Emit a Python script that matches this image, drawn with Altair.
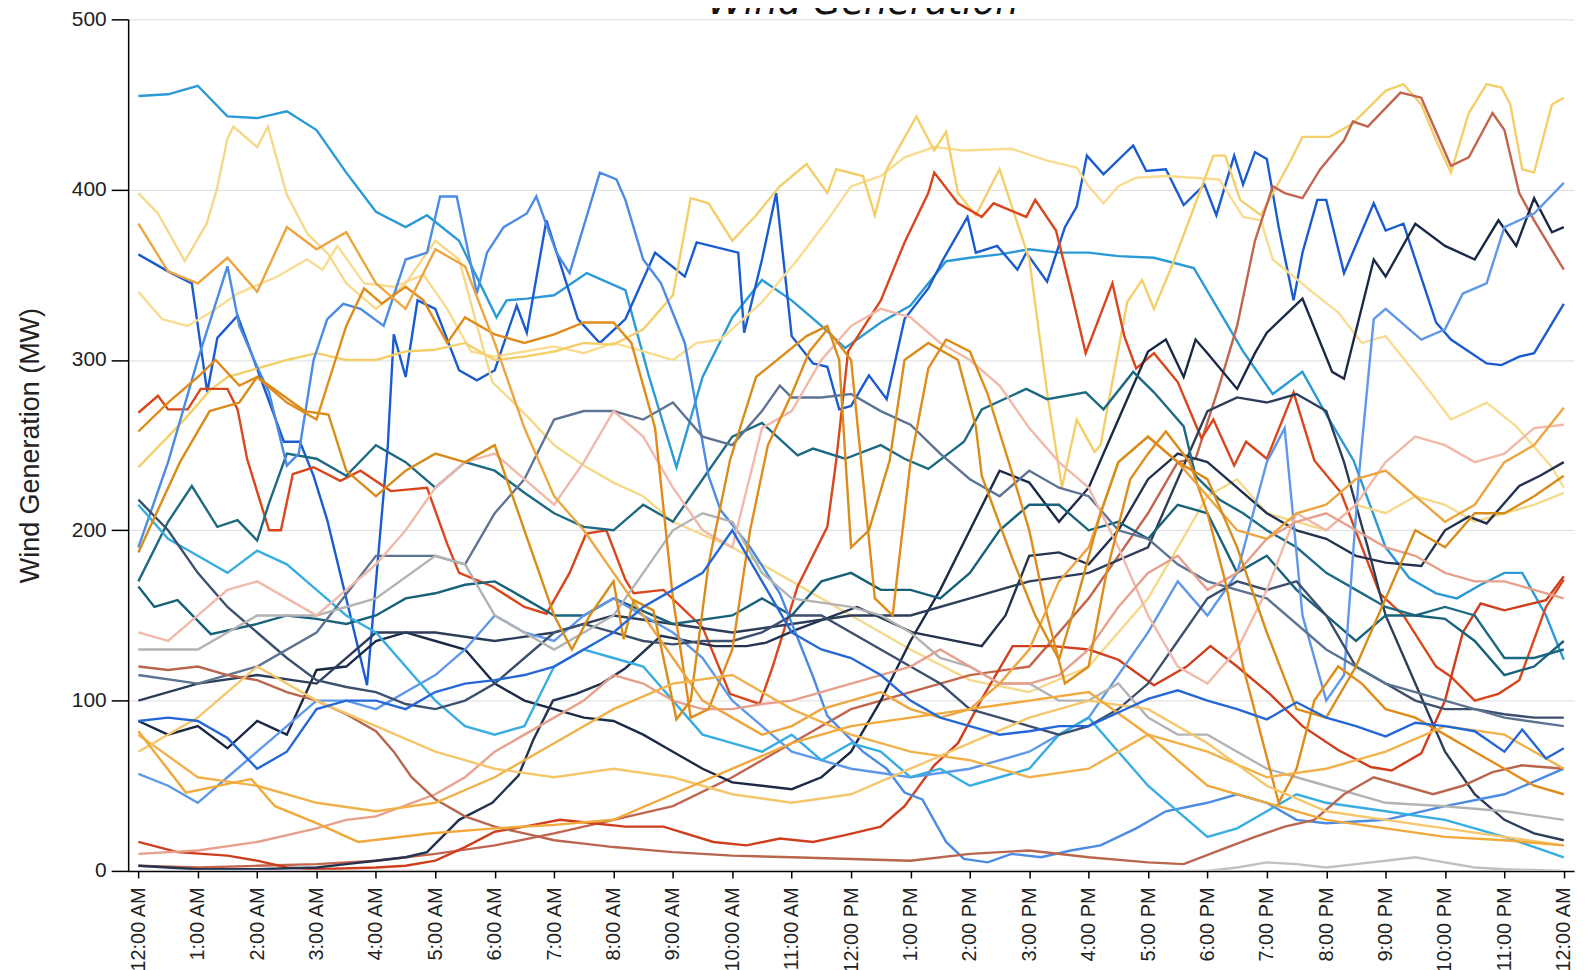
import altair as alt
import pandas as pd

CHART_TITLE = "Wind Generation"
HOUR_LABELS = ["12:00 AM", "1:00 AM", "2:00 AM", "3:00 AM", "4:00 AM", "5:00 AM",
               "6:00 AM", "7:00 AM", "8:00 AM", "9:00 AM", "10:00 AM", "11:00 AM",
               "12:00 PM", "1:00 PM", "2:00 PM", "3:00 PM", "4:00 PM", "5:00 PM",
               "6:00 PM", "7:00 PM", "8:00 PM", "9:00 PM", "10:00 PM", "11:00 PM",
               "12:00 AM"]
Y_TICKS = [0, 100, 200, 300, 400, 500]

# each series: (hour of day, MW)
cyan_top = [(0, 455), (0.5, 456), (1, 461), (1.5, 443), (2, 442), (2.5, 446), (3, 435), (3.5, 410), (4, 387),
            (4.5, 378), (4.86, 385), (5.4, 370), (6.03, 325), (6.2, 335), (6.54, 336), (7, 338), (7.55, 351),
            (8.2, 341), (8.6, 290), (9.06, 237), (9.5, 290), (10.0, 325), (10.5, 347), (11, 335), (11.5, 320),
            (11.9, 307), (12.5, 322), (13, 332), (13.6, 358), (14, 360), (14.5, 362), (15, 365), (15.5, 363),
            (16, 363), (16.5, 361), (17.1, 360), (17.77, 354), (18.16, 331), (18.6, 305), (19.1, 280),
            (19.6, 293), (20, 268), (20.46, 241), (21.0, 190), (21.4, 172), (21.85, 163), (22.2, 160),
            (22.6, 168), (23.0, 175), (23.3, 175), (23.7, 150), (24, 124)]
royal_blue = [(0, 362), (0.5, 352), (0.9, 345), (1.16, 281), (1.33, 313), (1.67, 326), (2.05, 290), (2.45, 252),
              (2.72, 252), (2.95, 232), (3.18, 206), (3.5, 160), (3.85, 109), (4.2, 250), (4.3, 315), (4.5, 290),
              (4.7, 335), (5.0, 330), (5.4, 294), (5.7, 288), (6.0, 294), (6.37, 332), (6.54, 316), (6.87, 382),
              (7.4, 324), (7.77, 310), (8.2, 324), (8.7, 363), (9.2, 349), (9.4, 369), (10.1, 363), (10.2, 316),
              (10.5, 359), (10.74, 398), (11.0, 314), (11.36, 298), (11.6, 296), (11.8, 271), (12.0, 273),
              (12.3, 291), (12.6, 277), (12.9, 324), (13.3, 342), (13.55, 359), (13.96, 384), (14.1, 363),
              (14.46, 367), (14.8, 353), (14.95, 363), (15.3, 346), (15.6, 378), (15.8, 390), (15.97, 420),
              (16.25, 409), (16.75, 426), (16.97, 411), (17.3, 412), (17.6, 391), (17.95, 403), (18.15, 385),
              (18.45, 420), (18.6, 403), (18.8, 422), (19.0, 418), (19.2, 378), (19.45, 335), (19.6, 363),
              (19.85, 394), (20.0, 394), (20.3, 351), (20.8, 392), (21.0, 376), (21.3, 380), (21.85, 322),
              (22.1, 312), (22.7, 298), (22.95, 297), (23.25, 302), (23.5, 304), (24.0, 333)]
pale_yellow_a = [(0, 340), (0.4, 324), (0.83, 320), (1.22, 328), (1.67, 339), (2.34, 349), (2.84, 359), (3.1, 353),
                 (3.35, 367), (3.8, 345), (4.3, 343), (4.8, 350), (5.2, 330), (5.6, 305), (6, 302), (6.5, 305),
                 (7, 308), (7.5, 304), (8, 310), (8.5, 305), (9, 300), (9.4, 310), (9.8, 312), (10.5, 334),
                 (11.1, 359), (11.6, 382), (12.0, 402), (12.5, 408), (12.9, 419), (13.4, 425), (13.9, 423),
                 (14.7, 424), (15.3, 417), (15.8, 413), (16.0, 402), (16.25, 392), (16.5, 402), (16.8, 407),
                 (17.3, 408), (18.2, 406), (18.6, 384), (18.9, 382), (19.1, 359), (19.8, 339), (20.2, 328),
                 (20.6, 310), (21.0, 314), (21.6, 288), (22.1, 265), (22.7, 275), (23.2, 261), (23.8, 237),
                 (24, 225)]
yellow_b = [(0, 237), (0.5, 255), (0.8, 266), (1.2, 282), (1.5, 290), (2, 295), (2.5, 300), (3, 304), (3.5, 300),
            (4, 300), (4.5, 305), (5, 306), (5.5, 310), (6, 300), (6.5, 302), (7, 305), (7.5, 310), (8, 309),
            (8.5, 318), (9, 338), (9.3, 395), (9.6, 392), (10, 370), (10.4, 385), (10.8, 402), (11.25, 415),
            (11.6, 398), (11.75, 412), (12.2, 408), (12.4, 385), (12.6, 412), (13.1, 443), (13.4, 423),
            (13.6, 434), (13.8, 398), (14.1, 385), (14.5, 412), (15.0, 359), (15.3, 281), (15.55, 225),
            (15.8, 265), (16.1, 246), (16.2, 250), (16.65, 334), (16.9, 347), (17.1, 330), (17.4, 355),
            (17.8, 392), (18.1, 420), (18.3, 420), (18.55, 394), (18.9, 385), (19.4, 417), (19.6, 431),
            (20.06, 431), (20.45, 439), (21.0, 458), (21.3, 462), (21.6, 450), (21.85, 429), (22.1, 410),
            (22.4, 445), (22.7, 462), (22.95, 460), (23.1, 450), (23.3, 412), (23.5, 410), (23.8, 450),
            (24, 454)]
yellow_c = [(0, 398), (0.33, 386), (0.78, 358), (1.15, 380), (1.32, 400), (1.5, 430), (1.6, 437), (2.0, 425),
            (2.18, 437), (2.5, 397), (2.85, 374), (3.2, 362), (3.5, 345), (4, 330), (4.5, 345), (5, 370),
            (5.4, 359), (5.96, 287), (6.2, 279), (6.6, 265), (7, 250), (7.5, 238), (8, 228), (8.5, 220),
            (9, 205), (10, 190), (11, 170), (12, 150), (13, 130), (14, 112), (15, 105), (16, 120), (17, 160),
            (17.5, 190), (18, 220), (18.5, 230), (19, 210), (19.5, 205), (20, 200), (20.5, 215), (21, 210),
            (21.5, 220), (22, 215), (22.5, 205), (23, 210), (23.5, 215), (24, 222)]
brown_red = [(0, 3), (1, 2), (2, 3), (3, 4), (4, 6), (5, 10), (6, 15), (7, 22), (8, 30), (9, 38), (10, 55),
             (11, 75), (12, 95), (13, 105), (14, 115), (15, 120), (16, 160), (16.5, 185), (17, 210), (17.5, 240),
             (17.8, 242), (18.2, 285), (18.5, 320), (18.8, 370), (19.1, 402), (19.3, 398), (19.6, 395),
             (19.9, 412), (20.3, 429), (20.45, 440), (20.7, 437), (21.25, 457), (21.6, 454), (22.1, 414),
             (22.4, 419), (22.8, 445), (23.0, 435), (23.25, 398), (23.5, 382), (24, 353)]
red_big = [(0, 269), (0.33, 279), (0.5, 271), (0.83, 271), (1.05, 283), (1.5, 283), (1.67, 271), (1.83, 242),
           (2.2, 200), (2.4, 200), (2.6, 233), (2.95, 237), (3.4, 229), (3.74, 235), (4.25, 223), (4.86, 225),
           (5.2, 192), (5.4, 175), (5.96, 167), (6.5, 155), (6.87, 151), (7.26, 175), (7.54, 198), (7.88, 200),
           (8.2, 171), (8.34, 163), (8.84, 165), (9.5, 143), (9.96, 104), (10.46, 98), (10.68, 120),
           (11.1, 167), (11.6, 202), (11.75, 241), (11.95, 305), (12.5, 335), (12.9, 369), (13.3, 398),
           (13.4, 410), (13.8, 392), (14.2, 384), (14.4, 392), (14.95, 384), (15.1, 394), (15.45, 376),
           (15.7, 341), (15.95, 304), (16.4, 345), (16.6, 314), (16.8, 295), (17.1, 304), (17.5, 287),
           (17.9, 254), (18.1, 265), (18.45, 238), (18.65, 252), (19.0, 242), (19.45, 281), (19.8, 241),
           (20.25, 222), (20.9, 163), (21.3, 150), (21.85, 120), (22.1, 114), (22.5, 100), (22.9, 104),
           (23.25, 112), (23.7, 155), (24, 171)]
red_low = [(0, 17), (0.66, 11), (1.5, 9), (2, 6), (2.5, 2), (3, 1), (4, 2), (4.5, 3), (5, 6), (5.5, 14), (6, 23),
           (6.5, 26), (7.1, 30), (7.66, 28), (8.2, 26), (8.84, 26), (9.68, 17), (10.24, 15), (10.8, 19),
           (11.36, 17), (11.9, 21), (12.5, 26), (12.9, 38), (13.4, 62), (13.8, 75), (14.2, 101), (14.72, 132),
           (15.4, 132), (16, 130), (16.5, 124), (17.1, 109), (17.65, 120), (18.05, 132), (18.5, 120),
           (19.05, 104), (19.6, 85), (20.2, 71), (20.75, 61), (21.1, 59), (21.6, 69), (22.0, 100), (22.3, 140),
           (22.6, 157), (23.0, 153), (23.7, 159), (24, 173)]
navy_a = [(0, 88), (0.5, 80), (1, 85), (1.5, 72), (2, 88), (2.5, 80), (3, 118), (3.5, 120), (4, 135), (4.5, 140),
          (5, 135), (5.5, 130), (6, 110), (6.5, 100), (7, 95), (7.5, 90), (8, 88), (8.5, 80), (9, 70), (9.5, 60),
          (10, 52), (10.5, 50), (11, 48), (11.5, 55), (12, 70), (12.5, 100), (13, 135), (13.5, 165), (14, 200),
          (14.5, 235), (15, 228), (15.5, 205), (16, 225), (16.5, 265), (17, 305), (17.3, 312), (17.6, 290),
          (17.8, 312), (18, 304), (18.5, 283), (18.8, 304), (19, 316), (19.6, 336), (20.1, 293), (20.3, 289),
          (20.8, 359), (21, 349), (21.5, 380), (22, 367), (22.5, 359), (22.9, 382), (23.2, 367), (23.5, 395),
          (23.8, 375), (24, 378)]
navy_b = [(0, 3), (1, 1), (2, 1), (3, 2), (3.5, 4), (4, 6), (4.5, 8), (4.86, 11), (5.4, 30), (5.96, 40),
          (6.4, 56), (6.65, 77), (6.98, 100), (7.37, 104), (7.8, 110), (8.2, 119), (8.8, 138), (9.7, 132),
          (10.24, 132), (10.57, 134), (11.1, 142), (12.1, 155), (13.04, 140), (14.2, 132), (14.6, 150),
          (15, 185), (15.5, 187), (16, 180), (16.5, 200), (17, 230), (17.5, 245), (18, 240), (18.5, 225),
          (19, 210), (19.5, 200), (20, 195), (20.5, 185), (21, 181), (21.6, 179), (22.0, 200), (22.4, 208),
          (22.7, 204), (23.25, 226), (23.6, 232), (24, 240)]
navy_c = [(0, 100), (1, 110), (2, 115), (3, 110), (4, 140), (5, 140), (6, 135), (7, 140), (8, 150), (9, 145),
          (10, 140), (11, 145), (12, 150), (13, 150), (14, 160), (15, 170), (16, 175), (17, 190), (17.5, 230),
          (18, 270), (18.5, 278), (19, 275), (19.5, 280), (20, 270), (20.3, 240), (20.7, 190), (21, 150),
          (21.5, 110), (22, 70), (22.5, 45), (23, 30), (23.5, 22), (24, 18)]
teal_a = [(0, 170), (0.5, 205), (0.9, 226), (1.33, 202), (1.67, 206), (2, 194), (2.2, 216), (2.5, 245), (3, 242),
          (3.5, 232), (4, 250), (4.5, 240), (5, 225), (5.5, 240), (6, 235), (6.5, 222), (7, 210), (7.5, 202),
          (8, 200), (8.5, 215), (9, 205), (9.5, 230), (10, 255), (10.5, 263), (11.1, 244), (11.36, 248),
          (11.9, 242), (12.5, 250), (12.9, 242), (13.3, 236), (13.9, 252), (14.2, 271), (14.95, 283),
          (15.3, 277), (15.95, 281), (16.25, 271), (16.75, 293), (17.1, 281), (17.6, 261), (17.8, 232),
          (18.2, 218), (18.6, 210), (19, 200), (19.5, 190), (20, 175), (20.5, 165), (21, 155), (21.5, 150),
          (22, 155), (22.5, 150), (23, 125), (23.5, 125), (24, 130)]
teal_b = [(0, 167), (0.27, 155), (0.66, 159), (1.22, 139), (2, 145), (2.5, 150), (3, 148), (3.5, 145), (4, 150),
          (4.5, 160), (5, 163), (5.5, 168), (6, 170), (6.5, 160), (7, 150), (7.5, 150), (8, 160), (9, 145),
          (10, 150), (10.5, 160), (11, 150), (11.5, 170), (12, 175), (12.5, 165), (13, 165), (13.5, 160),
          (14, 175), (14.5, 200), (15, 215), (15.5, 215), (16, 200), (16.5, 205), (17, 195), (17.5, 215),
          (18, 210), (18.5, 175), (19, 185), (19.5, 165), (20, 150), (20.5, 135), (21, 150), (21.5, 150),
          (22, 148), (22.5, 135), (23, 115), (23.5, 120), (24, 135)]
cornflower_a = [(0, 190), (0.5, 240), (1, 300), (1.5, 355), (1.7, 320), (2, 296), (2.2, 281), (2.5, 238),
                (2.7, 245), (2.95, 300), (3.18, 324), (3.45, 333), (3.74, 330), (4.13, 320), (4.5, 359),
                (4.86, 363), (5.08, 396), (5.36, 396), (5.7, 339), (5.87, 363), (6.15, 378), (6.54, 386),
                (6.7, 396), (7.04, 363), (7.26, 351), (7.77, 410), (8.05, 406), (8.2, 394), (8.5, 359),
                (8.8, 345), (9.2, 310), (9.6, 232), (9.8, 212), (10.3, 190), (10.8, 163), (11.36, 114),
                (11.6, 91), (12.2, 70), (12.6, 60), (12.9, 46), (13.2, 42), (13.6, 17), (13.9, 7), (14.3, 5),
                (14.7, 10), (15.2, 8), (15.7, 12), (16.2, 15), (16.8, 25), (17.3, 35), (18, 40), (18.5, 45),
                (19, 40), (19.5, 30), (20, 28), (21, 30), (22, 38), (23, 45), (24, 60)]
cornflower_b = [(0, 57), (0.5, 50), (1, 40), (1.5, 55), (2, 70), (2.5, 85), (3, 100), (3.5, 100), (4, 95),
                (4.5, 105), (5, 115), (5.5, 130), (6, 150), (6.5, 140), (7, 135), (7.5, 150), (8, 160),
                (8.5, 150), (9, 140), (9.5, 125), (10, 100), (10.5, 85), (11, 70), (11.5, 65), (12, 60),
                (13, 55), (14, 60), (15, 70), (16, 90), (17, 140), (17.5, 170), (18, 150), (18.5, 175),
                (19, 240), (19.3, 260), (19.6, 150), (20, 100), (20.3, 115), (20.55, 232), (20.8, 324),
                (21, 330), (21.6, 312), (22, 318), (22.3, 339), (22.7, 345), (23, 378), (23.5, 386), (24, 404)]
light_cyan = [(0, 215), (0.5, 195), (1, 185), (1.5, 175), (2, 188), (2.5, 180), (3, 165), (3.5, 150), (4, 140),
              (4.5, 120), (5, 100), (5.5, 85), (6, 80), (6.5, 85), (7, 120), (7.5, 130), (8, 125), (8.5, 120),
              (9, 100), (9.5, 80), (10, 75), (10.5, 70), (11, 80), (11.5, 65), (12, 75), (12.5, 70), (13, 55),
              (13.5, 60), (14, 50), (14.5, 55), (15, 60), (15.5, 80), (16, 90), (16.5, 70), (17, 50),
              (17.5, 35), (18, 20), (18.5, 25), (19, 35), (19.5, 45), (20, 40), (21, 35), (22, 30), (23, 20),
              (24, 8)]
slate = [(0, 218), (0.5, 200), (1, 175), (1.5, 155), (2, 140), (2.5, 125), (3, 112), (3.5, 108), (4, 105),
         (4.5, 98), (5, 95), (5.5, 100), (6, 110), (6.5, 125), (7, 140), (7.5, 145), (8, 140), (8.5, 135),
         (9, 133), (9.5, 135), (10, 135), (10.5, 140), (11, 150), (11.5, 150), (12, 140), (12.5, 130),
         (13, 120), (13.5, 110), (14, 95), (14.5, 90), (15, 85), (15.5, 80), (16, 85), (16.5, 95), (17, 110),
         (17.5, 135), (18, 160), (18.5, 170), (19, 165), (19.5, 170), (20, 150), (20.5, 120), (21, 110),
         (21.5, 100), (22, 95), (22.5, 95), (23, 92), (23.5, 90), (24, 90)]
grayblue = [(0, 115), (1, 110), (2, 120), (3, 140), (4, 185), (5, 185), (5.5, 180), (6, 210), (6.5, 230),
            (7, 265), (7.5, 270), (8, 270), (8.5, 265), (9, 275), (9.5, 255), (10, 250), (10.5, 270), (10.8, 285),
            (11, 278), (11.5, 278), (12, 280), (12.5, 270), (13, 262), (13.5, 245), (14, 230), (14.5, 220),
            (15, 235), (15.5, 225), (16, 220), (16.5, 200), (17, 195), (17.5, 180), (18, 170), (19, 160),
            (20, 130), (21, 110), (22, 100), (23, 90), (24, 85)]
gray = [(0, 130), (1, 130), (2, 150), (3, 150), (4, 160), (5, 185), (5.5, 180), (6, 150), (7, 130), (8, 150),
        (8.5, 175), (9, 200), (9.5, 210), (10, 205), (10.5, 175), (11, 160), (12, 155), (12.5, 150), (13, 140),
        (13.5, 125), (14, 120), (14.5, 110), (15, 110), (15.5, 100), (16, 100), (16.5, 110), (17, 90),
        (17.5, 80), (18, 80), (18.5, 70), (19, 60), (19.5, 55), (20, 50), (21, 40), (22, 38), (23, 35), (24, 30)]
gray_low = [(0, 0), (6, 0), (12, 0), (18, 0), (18.5, 2), (19, 5), (19.5, 4), (20, 2), (20.5, 4), (21, 6),
            (21.5, 8), (22, 5), (22.5, 2), (23, 1), (24, 0)]
pink = [(0, 140), (0.5, 135), (1, 150), (1.5, 165), (2, 170), (2.5, 160), (3, 150), (3.5, 165), (4, 180),
        (4.5, 200), (5, 225), (5.5, 240), (6, 245), (6.5, 230), (7, 215), (7.5, 240), (8, 270), (8.5, 255),
        (9, 225), (9.5, 200), (10, 190), (10.5, 260), (11, 270), (11.5, 300), (12, 320), (12.5, 330),
        (13, 325), (13.5, 310), (14, 300), (14.5, 285), (15, 260), (15.5, 240), (16, 225), (16.5, 190),
        (17, 150), (17.5, 120), (18, 110), (18.5, 130), (19, 165), (19.5, 210), (20, 200), (20.5, 215),
        (21, 240), (21.5, 255), (22, 250), (22.5, 240), (23, 245), (23.5, 260), (24, 262)]
salmon = [(0, 10), (1, 12), (2, 17), (3, 25), (3.5, 30), (4, 32), (5, 45), (5.5, 55), (6, 70), (6.5, 80),
          (7, 90), (7.5, 100), (8, 115), (8.5, 110), (9, 100), (9.5, 95), (10, 95), (10.5, 98), (11, 100),
          (11.5, 105), (12, 110), (12.5, 115), (13, 120), (13.5, 130), (14, 120), (14.5, 110), (15, 110),
          (15.5, 115), (16, 130), (16.5, 155), (17, 175), (17.5, 185), (18, 165), (18.5, 175), (19, 195),
          (19.5, 205), (20, 210), (20.5, 200), (21, 190), (21.5, 185), (22, 175), (22.5, 170), (23, 170),
          (23.5, 165), (24, 160)]
brown_low = [(0, 120), (0.5, 118), (1, 120), (1.5, 115), (2, 112), (2.5, 105), (3, 100), (3.5, 92), (4, 82),
             (4.3, 70), (4.6, 55), (5, 42), (5.5, 32), (6, 26), (6.5, 22), (7, 18), (7.5, 16), (8, 14), (9, 11),
             (10, 9), (11, 8), (12, 7), (13, 6), (14, 10), (15, 12), (16, 8), (17, 5), (17.6, 4), (18.2, 12),
             (18.8, 20), (19.3, 26), (19.8, 30), (20.3, 45), (20.8, 55), (21.3, 50), (21.8, 45), (22.3, 50),
             (22.8, 58), (23.3, 62), (24, 60)]
orange_a = [(0, 258), (0.5, 275), (1, 290), (1.3, 300), (1.7, 285), (2, 290), (2.5, 275), (3, 265), (3.5, 320),
            (3.8, 342), (4.1, 333), (4.5, 343), (4.8, 335), (5.2, 310), (5.5, 325), (6, 315), (6.5, 310),
            (7, 315), (7.5, 322), (8, 322), (8.3, 310), (8.7, 260), (9, 160), (9.3, 90), (9.6, 95), (10, 130),
            (10.3, 200), (10.6, 250), (11, 280), (11.3, 305), (11.6, 318), (12, 300), (12.2, 230), (12.4, 160),
            (12.7, 150), (13, 240), (13.3, 295), (13.6, 312), (14, 305), (14.3, 280), (14.7, 235), (15, 200),
            (15.3, 150), (15.6, 110), (16, 120), (16.3, 175), (16.7, 230), (17, 245), (17.3, 258), (17.7, 240),
            (18, 210), (18.3, 170), (18.6, 120), (18.9, 80), (19.2, 40), (19.5, 60), (19.8, 100), (20.2, 120),
            (20.6, 110), (21, 95), (21.5, 90), (22, 80), (22.5, 70), (23, 60), (23.5, 50), (24, 45)]
orange_b = [(0, 380), (0.5, 352), (1, 345), (1.5, 360), (2, 340), (2.5, 378), (3, 365), (3.5, 375), (4, 345),
            (4.5, 330), (5, 365), (5.5, 355), (6, 310), (6.5, 260), (7, 220), (7.5, 200), (8, 175), (8.5, 150),
            (9, 125), (9.5, 100), (10, 90), (10.5, 80), (11, 85), (11.5, 95), (12, 100), (12.5, 105), (13, 95),
            (13.5, 90), (14, 95), (14.5, 110), (15, 130), (15.5, 170), (16, 190), (16.5, 240), (17, 255),
            (17.5, 240), (18, 220), (18.5, 200), (19, 195), (19.5, 210), (20, 215), (20.5, 230), (21, 235),
            (21.5, 220), (22, 205), (22.5, 215), (23, 240), (23.5, 250), (24, 272)]
gold = [(0, 187), (0.7, 240), (1.2, 270), (1.7, 275), (2, 290), (2.4, 280), (2.8, 270), (3.2, 268), (3.5, 235),
        (4, 220), (4.5, 235), (5, 245), (5.5, 240), (6, 250), (6.5, 200), (7, 150), (7.3, 130), (7.6, 150),
        (8, 170), (8.17, 136), (8.34, 159), (8.67, 153), (9.06, 89), (9.3, 100), (9.6, 180), (9.96, 241),
        (10.4, 290), (11.25, 314), (11.6, 320), (11.8, 300), (12, 190), (12.3, 200), (12.65, 241), (12.9, 300),
        (13.3, 310), (13.8, 300), (14.1, 261), (14.2, 232), (14.72, 183), (15.1, 150), (15.5, 124),
        (15.8, 159), (16.2, 210), (16.5, 240), (17, 255), (17.5, 240), (18, 230), (18.5, 190), (19, 140),
        (19.5, 95), (20, 90), (20.5, 120), (21, 160), (21.5, 200), (22, 190), (22.5, 210), (23, 210),
        (23.5, 220), (24, 232)]
lt_orange_a = [(0, 80), (1, 55), (2, 50), (3, 40), (4, 35), (5, 40), (6, 55), (7, 75), (8, 95), (9, 110),
               (10, 115), (11, 95), (12, 80), (13, 70), (14, 65), (15, 55), (16, 60), (17, 80), (18, 70), (19, 55),
               (20, 60), (21, 70), (22, 85), (23, 80), (24, 60)]
lt_orange_b = [(0, 70), (1, 90), (2, 120), (3, 100), (4, 85), (5, 70), (6, 60), (7, 55), (8, 60), (9, 55),
               (10, 45), (11, 40), (12, 45), (13, 60), (14, 75), (15, 90), (16, 100), (17, 95), (18, 75), (19, 50),
               (20, 35), (21, 30), (22, 25), (23, 20), (24, 15)]
orange_c = [(0, 82), (0.8, 46), (1.9, 54), (2.3, 38), (3, 28), (3.7, 17), (4.9, 22), (6, 25), (7, 27), (8, 30),
            (9, 45), (10, 60), (11, 75), (12, 85), (13, 90), (14, 95), (15, 100), (16, 105), (17, 80), (18, 50),
            (19, 40), (20, 30), (21, 25), (22, 20), (23, 18), (24, 15)]
blue_mid = [(0, 88), (0.5, 90), (1, 88), (1.5, 78), (2, 60), (2.5, 70), (3, 95), (3.5, 100), (4, 100),
            (4.5, 95), (5, 105), (5.5, 110), (6, 112), (6.5, 115), (7, 120), (7.5, 130), (8, 140), (8.5, 155),
            (9, 165), (9.5, 175), (10, 200), (10.5, 170), (11, 140), (11.5, 130), (12, 125), (12.5, 115),
            (13, 100), (13.5, 90), (14, 85), (14.5, 80), (15, 82), (15.5, 85), (16, 85), (16.5, 93), (17, 101),
            (17.5, 106), (18, 100), (18.5, 95), (19, 89), (19.5, 99), (20, 90), (20.5, 85), (21, 79),
            (21.5, 87), (22, 85), (22.5, 82), (23, 70), (23.3, 83), (23.7, 66), (24, 72)]

SERIES_NAMES = ["cyan_top", "royal_blue", "pale_yellow_a", "yellow_b", "yellow_c", "brown_red", "red_big",
                "red_low", "navy_a", "navy_b", "navy_c", "teal_a", "teal_b", "cornflower_a", "cornflower_b",
                "light_cyan", "slate", "grayblue", "gray", "gray_low", "pink", "salmon", "brown_low",
                "orange_a", "orange_b", "gold", "lt_orange_a", "lt_orange_b", "orange_c", "blue_mid"]
SERIES_COLORS = ["#2b9ad5", "#1a5ccf", "#f8dc92", "#f3cf6a", "#f5d98a", "#c2654f", "#da461c",
                 "#d03f1d", "#1a2946", "#22324f", "#2c3d58", "#1e6a82", "#18617a", "#4b8be3", "#5f98e8",
                 "#38ade0", "#3c506e", "#5d7392", "#b3b3b3", "#c0c0c0", "#f0b9a9", "#e7a08c", "#b9664f",
                 "#e08c1c", "#eca540", "#d88c1a", "#f0b24b", "#f5c66c", "#f0a93a", "#2667d6"]
SERIES_POINTS = [cyan_top, royal_blue, pale_yellow_a, yellow_b, yellow_c, brown_red, red_big,
                 red_low, navy_a, navy_b, navy_c, teal_a, teal_b, cornflower_a, cornflower_b,
                 light_cyan, slate, grayblue, gray, gray_low, pink, salmon, brown_low,
                 orange_a, orange_b, gold, lt_orange_a, lt_orange_b, orange_c, blue_mid]

rows = []
for name, pts in zip(SERIES_NAMES, SERIES_POINTS):
    for h, v in pts:
        rows.append({"series": name, "hour": h, "mw": v})
df = pd.DataFrame(rows)

label_expr = "[" + ",".join("'" + s + "'" for s in HOUR_LABELS) + "][datum.value]"

FONT = "Liberation Sans"

lines = alt.Chart(df).mark_line(strokeWidth=2.4, clip=True).encode(
    x=alt.X("hour:Q",
            scale=alt.Scale(domain=[-0.172, 24.172], nice=False, zero=False),
            axis=alt.Axis(values=list(range(25)), labelExpr=label_expr, labelAngle=270,
                          labelAlign="right", labelBaseline="middle", labelPadding=9,
                          labelFont=FONT, labelFontSize=20, labelColor="#222",
                          labelOverlap=False, labelFlush=False,
                          tickSize=7, tickColor="#000", tickWidth=1.5,
                          domainColor="#000", domainWidth=1.5, grid=False, title=None)),
    y=alt.Y("mw:Q",
            scale=alt.Scale(domain=[0, 500], nice=False),
            axis=alt.Axis(values=Y_TICKS, labelFont=FONT, labelFontSize=21, labelColor="#222",
                          labelPadding=5, tickSize=17, tickColor="#000", tickWidth=1.5,
                          domainColor="#000", domainWidth=1.5,
                          grid=True, gridColor="#dcdcdc", gridWidth=1,
                          title="Wind Generation (MW)", titleFont=FONT, titleFontSize=27,
                          titleFontWeight="normal", titleColor="#222",
                          titleAngle=270, titleX=-98, titleY=427,
                          titleAlign="center", titleBaseline="middle")),
    color=alt.Color("series:N", scale=alt.Scale(domain=SERIES_NAMES, range=SERIES_COLORS), legend=None),
    detail="series:N",
)

# chart title: sits at the very top edge, mostly above the visible page as in the reference
title_text = alt.Chart(pd.DataFrame({"t": [CHART_TITLE]})).mark_text(
    font="DejaVu Sans", fontStyle="italic", fontSize=37, color="#111",
    align="center", baseline="alphabetic",
).encode(text="t:N", x=alt.value(737), y=alt.value(-5))

chart = alt.layer(lines, title_text).properties(
    width=1450,
    height=854,
    autosize="none",
    padding={"left": 120.5, "top": 10, "right": 5, "bottom": 100},
).configure_view(stroke=None)

chart.save("out.html", embed_options={"renderer": "svg", "actions": False})
